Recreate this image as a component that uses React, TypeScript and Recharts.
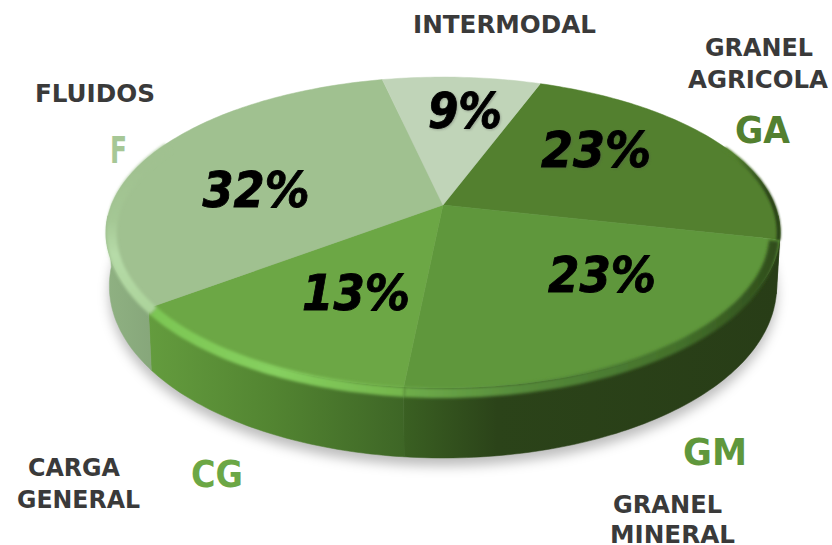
import React from "react";
import { PieChart, Pie } from "recharts";

const categories = ["GA", "GM", "CG", "F", "I"];
const shares = [23, 23, 13, 32, 9];
const faceColors = ["#53802f", "#5f973c", "#6ca745", "#a0c190", "#c0d4b8"];
const total = [100];

const tableData = categories.map((c, i) => ({ name: c, value: shares[i] }));
const totalData = total.map((v) => ({ name: "all", value: v }));

const CX = 443, CY = 205, A = 331.7, B = 150.6, K = 0.177;
const START = 70, END = -290;
const VIS_HI = -4, VIS_LO = -176;

const project = (deg: number) => {
  const a = (deg * Math.PI) / 180;
  const u = Math.cos(a), v = -Math.sin(a), w = 1 - K * v;
  return { x: CX + (A * u) / w, y: CY + (B * v) / w, v };
};
const lower = (deg: number, extra = 0) => {
  const p = project(deg);
  return { x: CX + (p.x - CX) * 0.99, y: p.y + 50 + 20 * p.v + extra };
};
const sample = (from: number, to: number, f: (d: number) => { x: number; y: number }) => {
  const n = Math.max(2, Math.ceil(Math.abs(to - from)));
  const pts = [];
  for (let i = 0; i <= n; i++) pts.push(f(from + ((to - from) * i) / n));
  return pts;
};
const toPath = (pts: { x: number; y: number }[], close = true) =>
  pts.map((p, i) => `${i ? "L" : "M"}${p.x.toFixed(1)} ${p.y.toFixed(1)}`).join(" ") + (close ? " Z" : "");

const Shadow = (p: any) => (
  <path
    d={toPath(sample(p.startAngle, p.endAngle, (d) => lower(d, 8)))}
    fill="#000"
    fillOpacity={0.26}
    filter="url(#softShadow)"
  />
);

const Wall = (p: any) => {
  const hi = Math.min(p.startAngle, VIS_HI), lo = Math.max(p.endAngle, VIS_LO);
  if (lo >= hi) return <g />;
  const top = sample(hi, lo, project);
  const bottom = sample(lo, hi, lower);
  return <path d={toPath([...top, ...bottom])} fill={`url(#wall${p.index})`} stroke={`url(#wall${p.index})`} strokeWidth={0.5} />;
};

const Face = (p: any) => {
  const pts = [{ x: CX, y: CY }, ...sample(p.startAngle, p.endAngle, project)];
  return <path d={toPath(pts)} fill={faceColors[p.index]} stroke={faceColors[p.index]} strokeWidth={0.5} />;
};

const Rim = (p: any) => {
  const isGA = p.index === 0;
  const hi = Math.min(p.startAngle, 24), lo = Math.max(p.endAngle, -205);
  if (lo >= hi) return <g />;
  const pts = sample(hi, lo, (d) => {
    const q = project(d);
    return isGA
      ? { x: CX + (q.x - CX) * 0.996, y: q.y + Math.abs(q.v) }
      : { x: CX + (q.x - CX) * 0.983, y: q.y + 5 * Math.abs(q.v) };
  });
  return (
    <path
      d={toPath(pts, false)}
      fill="none"
      stroke={`url(#rim${p.index})`}
      strokeWidth={isGA ? 4 : 10}
      filter={isGA ? "url(#softEdge)" : "url(#softRim)"}
    />
  );
};

const names: Record<string, string[]> = {
  GA: ["GRANEL", "AGRICOLA"],
  GM: ["GRANEL", "MINERAL"],
  CG: ["CARGA", "GENERAL"],
  F: ["FLUIDOS"],
  I: ["INTERMODAL"],
};
const codeColors: Record<string, string> = { GA: "#53802f", GM: "#5f973c", CG: "#6ca745", F: "#a6c796" };

const layout: Record<string, any> = {
  GA: { pct: [596, 167, 110], shadow: true, lines: [[759, 56, 108], [758, 88, 140]], code: [762.5, 143, 55] },
  GM: { pct: [602, 292, 108], shadow: false, lines: [[667.5, 513, 109], [672.5, 543, 125]], code: [715, 465, 64] },
  CG: { pct: [356, 310, 108], shadow: false, lines: [[74, 476, 92], [78.5, 508, 123]], code: [217, 487, 52] },
  F: { pct: [256, 207, 107], shadow: false, lines: [[95, 102, 120]], code: [118.5, 163, 17] },
  I: { pct: [465, 128, 74], shadow: true, lines: [[504.5, 33, 183]], code: null },
};

const FONT = "'DejaVu Sans Condensed', 'DejaVu Sans', sans-serif";

const renderLabel = (p: any) => {
  const key = categories[p.index];
  const l = layout[key];
  return (
    <g>
      <text
        x={l.pct[0]}
        y={l.pct[1]}
        textAnchor="middle"
        fontFamily={FONT}
        fontWeight={700}
        fontStyle="italic"
        fontSize={50}
        fill="#000"
        stroke="#000"
        strokeWidth={0.8}
        textLength={l.pct[2]}
        lengthAdjust="spacingAndGlyphs"
        style={l.shadow ? { filter: "drop-shadow(1.5px 1.5px 1px rgba(80,80,80,0.35))" } : undefined}
      >
        {`${shares[p.index]}%`}
      </text>
      {l.lines.map((t: number[], i: number) => (
        <text
          key={i}
          x={t[0]}
          y={t[1]}
          textAnchor="middle"
          fontFamily={FONT}
          fontWeight={700}
          fontSize={25}
          fill="#3a3a3a"
          textLength={t[2]}
          lengthAdjust="spacingAndGlyphs"
        >
          {names[key][i]}
        </text>
      ))}
      {l.code && (
        <text
          x={l.code[0]}
          y={l.code[1]}
          textAnchor="middle"
          fontFamily={FONT}
          fontWeight={700}
          fontSize={37}
          fill={codeColors[key]}
          textLength={l.code[2]}
          lengthAdjust="spacingAndGlyphs"
        >
          {key}
        </text>
      )}
    </g>
  );
};

const grad = (id: string, stops: [number, string][]) => (
  <linearGradient key={id} id={id} gradientUnits="userSpaceOnUse" x1={107} y1={0} x2={780} y2={0}>
    {stops.map(([o, c], i) => (
      <stop key={i} offset={o} stopColor={c} />
    ))}
  </linearGradient>
);

export default function App() {
  const pieProps = {
    cx: CX,
    cy: CY,
    outerRadius: 100,
    innerRadius: 0,
    startAngle: START,
    endAngle: END,
    dataKey: "value",
    isAnimationActive: false,
    stroke: "none",
    labelLine: false,
  } as const;
  return (
    <div style={{ position: "absolute", left: 0, top: 0, width: 832, height: 545, background: "#fff", overflow: "hidden" }}>
      <PieChart width={832} height={545} margin={{ top: 0, right: 0, bottom: 0, left: 0 }}>
        <defs>
          <filter id="softShadow" filterUnits="userSpaceOnUse" x={0} y={0} width={832} height={545}>
            <feGaussianBlur stdDeviation={6} />
          </filter>
          <filter id="softRim" filterUnits="userSpaceOnUse" x={0} y={0} width={832} height={545}>
            <feGaussianBlur stdDeviation={1.8} />
          </filter>
          <filter id="softEdge" filterUnits="userSpaceOnUse" x={0} y={0} width={832} height={545}>
            <feGaussianBlur stdDeviation={0.9} />
          </filter>
          {grad("wall0", [[0, "#283e17"], [1, "#283e17"]])}
          {grad("wall1", [[0.44, "#3a6022"], [0.58, "#2b4319"], [1, "#283d17"]])}
          {grad("wall2", [[0.06, "#649c3e"], [0.25, "#528431"], [0.44, "#3e6626"]])}
          {grad("wall3", [[0, "#8fb182"], [0.07, "#86a67a"]])}
          {grad("wall4", [[0, "#c0d4b8"], [1, "#c0d4b8"]])}
          {grad("rim0", [[0.93, "#53802f"], [0.985, "#2a4318"]])}
          {grad("rim1", [[0.44, "#6fae4b"], [0.62, "#558a3a"], [0.85, "#43702a"], [1, "#2f4c1b"]])}
          {grad("rim2", [[0.06, "#7cc653"], [0.25, "#86d05f"], [0.44, "#74b64c"]])}
          <linearGradient id="rim3" gradientUnits="userSpaceOnUse" x1={0} y1={170} x2={0} y2={310}>
            <stop offset={0} stopColor="#a0c190" />
            <stop offset={0.35} stopColor="#a4c794" />
            <stop offset={0.6} stopColor="#b6dba8" />
            <stop offset={1} stopColor="#acd49b" />
          </linearGradient>
          {grad("rim4", [[0, "#c0d4b8"], [1, "#c0d4b8"]])}
        </defs>
        <Pie {...pieProps} data={totalData} shape={Shadow} />
        <Pie {...pieProps} data={tableData} shape={Wall} />
        <Pie {...pieProps} data={tableData} shape={Face} />
        <Pie {...pieProps} data={tableData} shape={Rim} label={renderLabel} />
      </PieChart>
    </div>
  );
}
